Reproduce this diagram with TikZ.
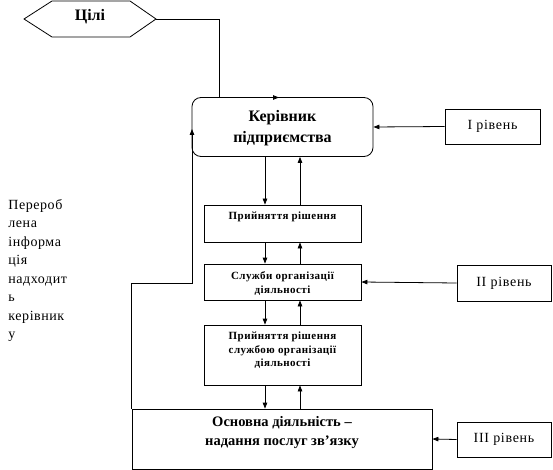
\documentclass[tikz,border=0pt]{standalone}
\usepackage{fontspec}
\setmainfont{Liberation Serif}
\usetikzlibrary{arrows.meta,calc}
\begin{document}
\begin{tikzpicture}[x=1pt,y=-1pt,
  line width=0.8pt,
  arr/.style={-{Triangle[length=6pt,width=4.5pt]}},
  box/.style={draw,rectangle,inner sep=0pt},
  small/.style={font=\fontsize{11}{13.5}\selectfont\bfseries\addfontfeatures{LetterSpace=4},align=center,inner sep=0pt},
  big/.style={font=\fontsize{16}{21}\selectfont\bfseries,align=center,inner sep=0pt},
  main/.style={font=\fontsize{14.5}{19}\selectfont\bfseries,align=center,inner sep=0pt},
  lvl/.style={font=\fontsize{14}{16}\selectfont\addfontfeatures{LetterSpace=5},inner sep=0pt}]
\useasboundingbox (0,0) rectangle (553,470);
% goals hexagon
\draw (24,19) -- (52,1) -- (130,1) -- (156,19) -- (130,37) -- (52,37) -- cycle;
\coordinate (ce) at (156,19);
\node[big] (c) at (90,17) {Цілі};
% manager
\node[box,rounded corners=9pt,minimum width=181pt,minimum height=59pt] (k) at (282.5,127) {};
\node[big] (kt) at (282.5,128) {Керівник\\підприємства};
\coordinate (ktop) at (279,97.5);
\coordinate (kleft) at (192,129);
% decision
\node[box,minimum width=157pt,minimum height=37pt] (p1) at (282.5,223.5) {};
\node[small] (p1t) at (282.5,216.5) {Прийняття рішення};
% services
\node[box,minimum width=157pt,minimum height=36pt] (s) at (282.5,282) {};
\node[small] (st) at (282.5,283.5) {Служби організації\\діяльності};
% decision by services
\node[box,minimum width=157pt,minimum height=60pt] (p2) at (282.5,355) {};
\node[small] (p2t) at (282.5,350.5) {Прийняття рішення\\службою організації\\діяльності};
% main activity
\node[box,minimum width=300pt,minimum height=60pt] (o) at (282,439) {};
\node[main] (ot) at (282,433) {Основна діяльність –\\надання послуг зв’язку};
% levels
\node[box,minimum width=95pt,minimum height=35pt] (r1) at (492.5,126.5) {};
\node[lvl] (r1t) at (492.5,126.5) {І рівень};
\node[box,minimum width=94pt,minimum height=36pt] (r2) at (504,283) {};
\node[lvl] (r2t) at (504,283) {ІІ рівень};
\node[box,minimum width=94pt,minimum height=35pt] (r3) at (504,439.5) {};
\node[lvl] (r3t) at (504,439.5) {ІІІ рівень};
% side text
\node[anchor=north west,align=left,inner sep=0pt,font=\fontsize{14}{18.5}\selectfont\addfontfeatures{LetterSpace=4}] (side) at (8,199)
 {Перероб\\лена\\інформа\\ція\\надходит\\ь\\керівник\\у};
% connectors
\draw[arr] (ce) -| (219,97.5) -- (ktop);
\coordinate (lp) at (192,283);
\draw[arr] (o.north west) |- (lp) -- (kleft);
\draw[arr] (r1.west) -- (k.east);
\draw[arr] (r2.west) -- (s.east);
\draw[arr] (r3.west) -- (o.east);
\draw[arr] ($(k.south)+(-17.5,0)$) -- ($(p1.north)+(-17.5,0)$);
\draw[arr] ($(p1.north)+(17.5,0)$) -- ($(k.south)+(17.5,0)$);
\draw[arr] ($(p1.south)+(-17.5,0)$) -- ($(s.north)+(-17.5,0)$);
\draw[arr] ($(s.north)+(17.5,0)$) -- ($(p1.south)+(17.5,0)$);
\draw[arr] ($(s.south)+(-17.5,0)$) -- ($(p2.north)+(-17.5,0)$);
\draw[arr] ($(p2.north)+(17.5,0)$) -- ($(s.south)+(17.5,0)$);
\draw[arr] ($(p2.south)+(-17.5,0)$) -- ($(o.north)+(-17,0)$);
\draw[arr] ($(o.north)+(18,0)$) -- ($(p2.south)+(17.5,0)$);
\end{tikzpicture}
\end{document}
